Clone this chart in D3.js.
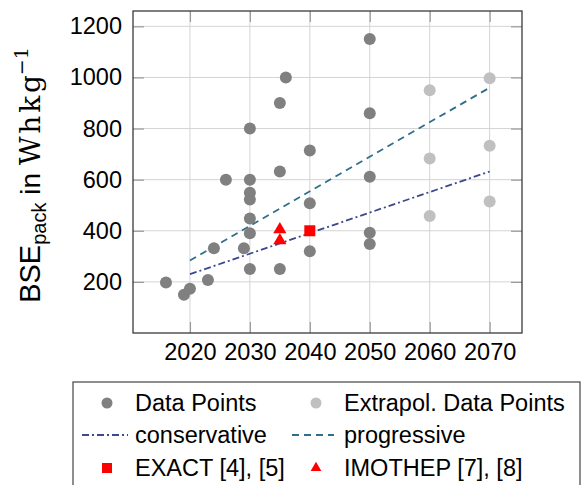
<!DOCTYPE html>
<html>
<head>
<meta charset="utf-8">
<script src="https://cdn.jsdelivr.net/npm/d3@7"></script>
<style>
  body { margin: 0; background: #fff; }
  svg { display: block; }
  text { font-family: "Liberation Sans", Arial, sans-serif; fill: #000; }
</style>
</head>
<body>
<svg id="chart"></svg>
<script>
const svgWidth = 581;
const svgHeight = 485;
const plot = { left: 133, top: 11, right: 522, bottom: 333 };

// ticks
const xTicks = [2020, 2030, 2040, 2050, 2060, 2070];
const yTicks = [200, 400, 600, 800, 1000, 1200];

// data points (grey)
const dataYears = [2016, 2019, 2020, 2023, 2024, 2026, 2029, 2030, 2030, 2030, 2030, 2030, 2030, 2030, 2035, 2035, 2035, 2036, 2040, 2040, 2040, 2050, 2050, 2050, 2050, 2050];
const dataValues = [198, 150, 173, 207, 332, 600, 332, 250, 390, 448, 522, 549, 600, 800, 250, 632, 900, 1000, 320, 508, 714, 348, 392, 611, 860, 1150];

// extrapolated data points (light grey)
const extYears = [2060, 2060, 2060, 2070, 2070, 2070];
const extValues = [458, 683, 950, 515, 733, 997];

// projects
const exactYears = [2040];
const exactValues = [400];
const imothepYears = [2035, 2035];
const imothepValues = [362, 405];

// trend lines
const trendYears = [2020, 2070];
const conservative = [230, 632];
const progressive = [284, 960];

const colDark = "#808080";
const colLight = "#c0c0c0";
const colCons = "#3b4a8c";
const colProg = "#2f6f8c";
const colRed = "#ff0000";
const fontSize = "23.5px";

const svg = d3.select("#chart")
  .attr("width", svgWidth)
  .attr("height", svgHeight);

const x = d3.scaleLinear().domain([2010.5, 2075.4]).range([plot.left, plot.right]);
const y = d3.scaleLinear().domain([0, 1260]).range([plot.bottom, plot.top]);

// grid
const grid = svg.append("g");
grid.selectAll(".gx").data(xTicks).enter().append("line")
  .attr("x1", d => x(d)).attr("x2", d => x(d))
  .attr("y1", plot.top).attr("y2", plot.bottom)
  .attr("stroke", "#d4d4d4").attr("stroke-width", 1);
grid.selectAll(".gy").data(yTicks).enter().append("line")
  .attr("x1", plot.left).attr("x2", plot.right)
  .attr("y1", d => y(d)).attr("y2", d => y(d))
  .attr("stroke", "#d4d4d4").attr("stroke-width", 1);

// tick marks on all four sides, pointing inwards
const tickLen = 11;
const tickMarks = (axis, tx, ty) => {
  let g = svg.append("g")
    .attr("transform", "translate(" + tx + "," + ty + ")")
    .call(axis.tickSize(tickLen).tickFormat(""));
  g.select(".domain").remove();
  g.selectAll(".tick line").attr("stroke", "#9a9a9a").attr("stroke-width", 1.2);
};
tickMarks(d3.axisTop(x).tickValues(xTicks), 0, plot.bottom);
tickMarks(d3.axisBottom(x).tickValues(xTicks), 0, plot.top);
tickMarks(d3.axisRight(y).tickValues(yTicks), plot.left, 0);
tickMarks(d3.axisLeft(y).tickValues(yTicks), plot.right, 0);

// tick labels
const xLab = svg.append("g")
  .attr("transform", "translate(0," + plot.bottom + ")")
  .call(d3.axisBottom(x).tickValues(xTicks).tickSize(0).tickPadding(10).tickFormat(d3.format("d")));
xLab.select(".domain").remove();
xLab.selectAll("text").style("font-size", fontSize).style("font-family", "Liberation Sans, Arial, sans-serif");

const yLab = svg.append("g")
  .attr("transform", "translate(" + plot.left + ",0)")
  .call(d3.axisLeft(y).tickValues(yTicks).tickSize(0).tickPadding(11).tickFormat(d3.format("d")));
yLab.select(".domain").remove();
yLab.selectAll("text").style("font-size", fontSize).style("font-family", "Liberation Sans, Arial, sans-serif");

// trend lines
const line = d3.line().x(d => x(d[0])).y(d => y(d[1]));
svg.append("path")
  .datum(d3.zip(trendYears, conservative))
  .attr("d", line).attr("fill", "none")
  .attr("stroke", colCons).attr("stroke-width", 1.8)
  .attr("stroke-dasharray", "7,3,2,3");
svg.append("path")
  .datum(d3.zip(trendYears, progressive))
  .attr("d", line).attr("fill", "none")
  .attr("stroke", colProg).attr("stroke-width", 1.8)
  .attr("stroke-dasharray", "7,5");

// points
svg.append("g").selectAll("circle")
  .data(d3.zip(dataYears, dataValues)).enter().append("circle")
  .attr("cx", d => x(d[0])).attr("cy", d => y(d[1]))
  .attr("r", 6).attr("fill", colDark);
svg.append("g").selectAll("circle")
  .data(d3.zip(extYears, extValues)).enter().append("circle")
  .attr("cx", d => x(d[0])).attr("cy", d => y(d[1]))
  .attr("r", 6).attr("fill", colLight);

const tri = d3.symbol().type(d3.symbolTriangle).size(75);
svg.append("g").selectAll("path")
  .data(d3.zip(imothepYears, imothepValues)).enter().append("path")
  .attr("transform", d => "translate(" + x(d[0]) + "," + y(d[1]) + ")")
  .attr("d", tri).attr("fill", colRed);
svg.append("g").selectAll("rect")
  .data(d3.zip(exactYears, exactValues)).enter().append("rect")
  .attr("x", d => x(d[0]) - 5.5).attr("y", d => y(d[1]) - 5.5)
  .attr("width", 11).attr("height", 11).attr("fill", colRed);

// frame
svg.append("rect")
  .attr("x", plot.left).attr("y", plot.top)
  .attr("width", plot.right - plot.left).attr("height", plot.bottom - plot.top)
  .attr("fill", "none").attr("stroke", "#3a3a3a").attr("stroke-width", 1.3);

// y axis title
const yt = svg.append("text")
  .attr("transform", "translate(40," + ((plot.top + plot.bottom) / 2 + 3) + ") rotate(-90)")
  .attr("text-anchor", "middle");
yt.append("tspan").style("font-size", "29px").text("BSE");
yt.append("tspan").style("font-size", "20px").attr("dy", 6).text("pack");
yt.append("tspan").style("font-size", "28px").attr("dy", -6).text(" in ");
yt.append("tspan").style("font-size", "28px").style("font-family", "DejaVu Serif, serif").text("W\u200Ah\u200Ak\u200Ag");
yt.append("tspan").style("font-size", "19px").style("font-family", "DejaVu Serif, serif").attr("dy", -12).text("\u22121");

// legend
const leg = svg.append("g");
leg.append("rect")
  .attr("x", 73).attr("y", 382).attr("width", 507).attr("height", 130)
  .attr("fill", "#fff").attr("stroke", "#444").attr("stroke-width", 1.2);

const rows = [403, 435, 468];
const col1 = 107, col2 = 316;
const txt1 = 135, txt2 = 344;
const legText = (tx, ty, s) => leg.append("text")
  .attr("x", tx).attr("y", ty).attr("dy", "0.36em")
  .style("font-size", fontSize).text(s);

leg.append("circle").attr("cx", col1).attr("cy", rows[0]).attr("r", 5.5).attr("fill", colDark);
legText(txt1, rows[0], "Data Points");
leg.append("circle").attr("cx", col2).attr("cy", rows[0]).attr("r", 5.5).attr("fill", colLight);
legText(txt2, rows[0], "Extrapol. Data Points");

leg.append("line").attr("x1", 82).attr("x2", 128).attr("y1", rows[1]).attr("y2", rows[1])
  .attr("stroke", colCons).attr("stroke-width", 1.8).attr("stroke-dasharray", "7,3,2,3");
legText(txt1, rows[1], "conservative");
leg.append("line").attr("x1", 292).attr("x2", 334).attr("y1", rows[1]).attr("y2", rows[1])
  .attr("stroke", colProg).attr("stroke-width", 1.8).attr("stroke-dasharray", "7,5");
legText(txt2, rows[1], "progressive");

leg.append("rect").attr("x", col1 - 5).attr("y", rows[2] - 5).attr("width", 10).attr("height", 10).attr("fill", colRed);
legText(txt1, rows[2], "EXACT [4], [5]");
leg.append("path").attr("transform", "translate(" + col2 + "," + rows[2] + ")")
  .attr("d", d3.symbol().type(d3.symbolTriangle).size(50)).attr("fill", colRed);
legText(txt2, rows[2], "IMOTHEP [7], [8]");
</script>
</body>
</html>
